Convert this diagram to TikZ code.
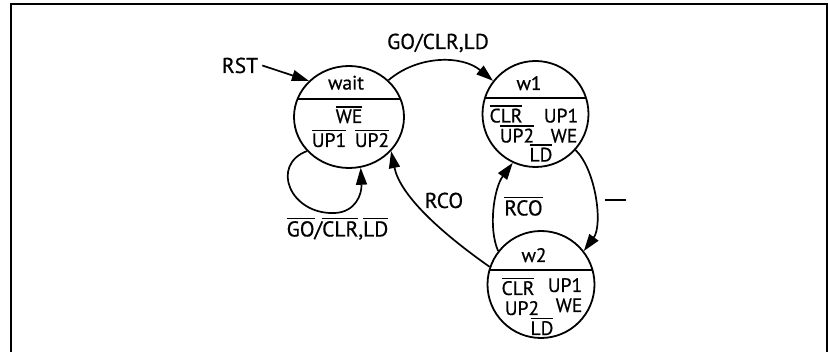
\documentclass[tikz,border=0pt]{standalone}
\usepackage{fontspec}
\setmainfont{PT Sans}[FakeBold=0.6]
\usetikzlibrary{shapes.geometric,arrows.meta,calc}
\newcommand\ovl[1]{\leavevmode\vbox{\hrule height 1.4pt\kern 1.8pt\hbox{#1}}}
\begin{document}
\begin{tikzpicture}[x=1pt,y=-1pt,
  state/.style={draw, ellipse, line width=1.8pt, inner sep=0pt},
  txt/.style={anchor=base, inner sep=0pt, font=\fontsize{19.5}{23}\selectfont},
  lbl/.style={anchor=base, inner sep=0pt, font=\fontsize{21.5}{25}\selectfont},
  conn/.style={line width=1.7pt, -{Triangle[length=17pt,width=11pt]}},
  divider/.style={line width=2.3pt},
  frame/.style={line width=2pt}]
\useasboundingbox (0,0) rectangle (828,352);
% frame
\draw[frame] (11,352) -- (11,4) -- (827,4) -- (827,352);

% states
\node[state, minimum width=110pt, minimum height=102pt] (wait) at (349,117) {};
\node[state, minimum width=106pt, minimum height=106pt] (w1) at (535.5,114) {};
\node[state, minimum width=107pt, minimum height=107pt] (w2) at (541,284.5) {};

\draw[divider] ($(wait.center)+(-51.5,-18)$) -- ++(103,0);
\draw[divider] ($(w1.center)+(-50.6,-15.7)$) -- ++(101.2,0);
\draw[divider] ($(w2.center)+(-51.5,-14.5)$) -- ++(103,0);

% wait contents
\node[txt] (waitname) at (346,89.5) {wait};
\node[txt] (waitwe) at (349,123) {\ovl{WE}};
\node[txt] (waitup1) at (329,147) {\ovl{UP1}};
\node[txt] (waitup2) at (372,147) {\ovl{UP2}};

% w1 contents
\node[txt] (w1name) at (529,90) {w1};
\node[txt] (w1clr) at (506,122.5) {\ovl{CLR}};
\node[txt] (w1up1) at (561,122.5) {UP1};
\node[txt] (w1up2) at (517,142.5) {\ovl{UP2}};
\node[txt] (w1we) at (564,142.5) {WE};
\node[txt] (w1ld) at (541,161.5) {\ovl{LD}};

% w2 contents
\node[txt] (w2name) at (534,262) {w2};
\node[txt] (w2clr) at (518,295) {\ovl{CLR}};
\node[txt] (w2up1) at (565,292) {UP1};
\node[txt] (w2up2) at (522,315) {UP2};
\node[txt] (w2we) at (569,312) {WE};
\node[txt] (w2ld) at (542,335) {\ovl{LD}};

% edge labels
\node[lbl] (rst) at (240,73) {RST};
\node[lbl] (golbl) at (438,49) {GO/CLR,LD};
\node[lbl] (looplbl) at (337.5,236.5) {\ovl{GO}/\ovl{CLR},\ovl{LD}};
\node[lbl] (rcolbl) at (444,208) {RCO};
\node[lbl] (nrcolbl) at (523.5,215.5) {\ovl{RCO}};
\node[inner sep=0pt] (blank) at (615.5,200) {\rule{21pt}{1.3pt}};

% connectors
\draw[conn] ([xshift=4pt]rst.east) -- (wait.138);
\draw[conn] (wait.43) .. controls (418,55) and (462,55) .. (w1.142);
\draw[conn] (w1.-42) .. controls (596,170) and (603,225) .. (w2.38);
\draw[conn] (w2.142) .. controls (488,228) and (494,188) .. (w1.-115);
\draw[conn] (w2.161) .. controls (440,232) and (400,195) .. (wait.-39);
\draw[conn] (wait.-141) .. controls (270,165) and (290,215) .. (335,213)
            .. controls (355,212) and (362,195) .. (wait.-77);
\end{tikzpicture}
\end{document}
